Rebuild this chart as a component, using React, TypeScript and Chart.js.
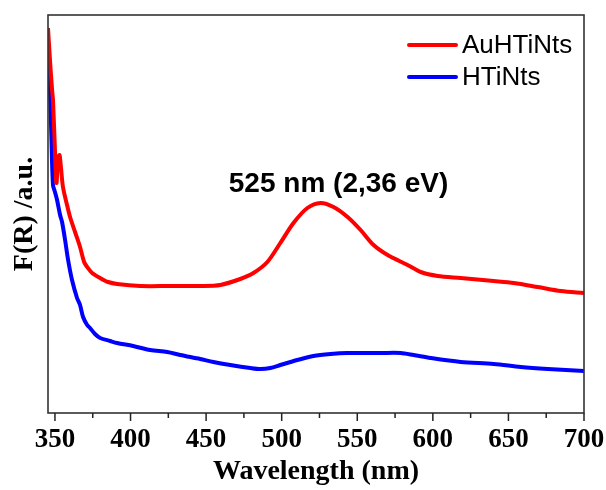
import { useEffect, useRef } from 'react';
import { Chart, registerables } from 'chart.js';

Chart.register(...registerables);

const seriesLabels = ['AuHTiNts', 'HTiNts'];
const seriesColors = ['#ff0000', '#0000ff'];

const auWavelength = [345.4, 346.7, 348.1, 348.7, 350.0, 351.0, 352.0, 353.0, 354.0, 355.3, 358.0, 360.0, 363.3, 366.6, 369.3, 371.3, 374.6, 379.9, 385.2, 391.1, 406.4, 426.2, 446.1, 459.4, 472.6, 481.3, 490.5, 499.1, 507.8, 517.0, 525.7, 534.3, 543.6, 552.2, 560.8, 570.1, 583.3, 592.0, 603.2, 618.4, 640.3, 653.6, 669.5, 684.7, 700.0];
const auValues = [385, 353, 323, 313, 263, 230, 253, 258, 245, 226, 208, 196, 181, 166, 151, 146, 140, 135, 131, 129, 127, 127, 127, 128, 134, 140, 151, 170, 190, 205, 210, 206, 196, 183, 168, 158, 148, 141, 137, 135, 132, 130, 126, 122, 120];

const hWavelength = [345.4, 346.7, 347.7, 348.7, 350.0, 351.4, 353.4, 354.7, 356.7, 358.7, 361.3, 364.6, 366.6, 368.6, 371.3, 373.2, 376.5, 379.9, 386.5, 391.1, 401.7, 413.0, 424.3, 432.9, 446.1, 454.8, 466.0, 479.3, 485.9, 492.5, 499.1, 510.4, 521.0, 532.3, 543.5, 565.4, 578.7, 587.3, 598.5, 618.4, 640.3, 658.2, 676.1, 700.0];
const hValues = [373, 323, 273, 228, 221, 213, 198, 191, 173, 153, 133, 115, 108, 96, 88, 85, 79, 75, 72, 70, 67, 63, 61, 58, 54, 51, 48, 45, 44, 45, 48, 53, 57, 59, 60, 60, 60, 58, 55, 51, 49, 46, 44, 42];

const xTickValues = [350, 400, 450, 500, 550, 600, 650, 700];
const xMinorTickValues = [375, 425, 475, 525, 575, 625, 675];
const xMin = 345.4;
const xMax = 700;
const yMin = 0;
const yMax = 398;

const xTitle = 'Wavelength (nm)';
const yTitle = 'F(R) /a.u.';
const peakLabel = '525 nm (2,36 eV)';
const peakLabelX = 537.6;
const peakLabelY = 221;

const decorPlugin = {
  id: 'decor',
  afterDraw(chart: any) {
    const { ctx, chartArea: a, scales } = chart;
    const xs = scales.x;
    const ys = scales.y;
    ctx.save();
    ctx.strokeStyle = '#333333';
    ctx.lineWidth = 1.6;
    ctx.strokeRect(a.left, a.top, a.right - a.left, a.bottom - a.top);
    ctx.lineWidth = 1.5;
    ctx.strokeStyle = '#222222';
    ctx.beginPath();
    xTickValues.forEach((v) => {
      const px = xs.getPixelForValue(v);
      ctx.moveTo(px, a.bottom);
      ctx.lineTo(px, a.bottom + 8);
    });
    xMinorTickValues.forEach((v) => {
      const px = xs.getPixelForValue(v);
      ctx.moveTo(px, a.bottom);
      ctx.lineTo(px, a.bottom + 5);
    });
    ctx.stroke();
    ctx.font = '26px "Liberation Sans", Arial, sans-serif';
    ctx.textBaseline = 'middle';
    ctx.textAlign = 'left';
    seriesLabels.forEach((lab, i) => {
      const y = a.top + 30 + i * 32;
      ctx.strokeStyle = seriesColors[i];
      ctx.lineWidth = 4;
      ctx.lineCap = 'round';
      ctx.beginPath();
      ctx.moveTo(a.right - 175, y);
      ctx.lineTo(a.right - 128, y);
      ctx.stroke();
      ctx.fillStyle = '#000000';
      ctx.fillText(lab, a.right - 122, y + 1);
    });
    ctx.font = 'bold 28px "Liberation Sans", Arial, sans-serif';
    ctx.textAlign = 'center';
    ctx.textBaseline = 'alphabetic';
    ctx.fillStyle = '#000000';
    ctx.fillText(peakLabel, xs.getPixelForValue(peakLabelX), ys.getPixelForValue(peakLabelY));
    ctx.restore();
  },
};

export default function App() {
  const ref = useRef<HTMLCanvasElement | null>(null);
  useEffect(() => {
    if (!ref.current) return;
    const chart = new Chart(ref.current, {
      type: 'line',
      data: {
        datasets: [
          {
            label: seriesLabels[0],
            data: auWavelength.map((x, i) => ({ x, y: auValues[i] })),
            borderColor: seriesColors[0],
            borderWidth: 4,
            pointRadius: 0,
            tension: 0.3,
            fill: false,
          },
          {
            label: seriesLabels[1],
            data: hWavelength.map((x, i) => ({ x, y: hValues[i] })),
            borderColor: seriesColors[1],
            borderWidth: 4,
            pointRadius: 0,
            tension: 0.3,
            fill: false,
          },
        ],
      },
      options: {
        responsive: false,
        animation: false,
        layout: { padding: { top: 15, right: 22, left: 0, bottom: 0 } },
        plugins: { legend: { display: false }, tooltip: { enabled: false } },
        scales: {
          x: {
            type: 'linear',
            min: xMin,
            max: xMax,
            grid: { display: false, drawTicks: false },
            border: { display: false },
            afterBuildTicks: (s: any) => {
              s.ticks = xTickValues.map((v) => ({ value: v }));
            },
            afterFit: (s: any) => {
              s.height = 77;
              s.paddingLeft = 0;
              s.paddingRight = 0;
            },
            ticks: {
              color: '#000000',
              padding: 11,
              maxRotation: 0,
              autoSkip: false,
              font: { family: '"Liberation Serif", "Times New Roman", serif', size: 27, weight: 'bold' },
            },
            title: {
              display: true,
              text: xTitle,
              color: '#000000',
              padding: { top: 0, bottom: 1 },
              font: { family: '"Liberation Serif", "Times New Roman", serif', size: 28, weight: 'bold' },
            },
          },
          y: {
            type: 'linear',
            min: yMin,
            max: yMax,
            grid: { display: false, drawTicks: false },
            border: { display: false },
            ticks: { display: false },
            afterFit: (s: any) => {
              s.width = 48;
              s.paddingTop = 0;
              s.paddingBottom = 0;
            },
            title: {
              display: true,
              text: yTitle,
              color: '#000000',
              padding: { top: 8, bottom: 0 },
              font: { family: '"Liberation Serif", "Times New Roman", serif', size: 28, weight: 'bold' },
            },
          },
        },
      },
      plugins: [decorPlugin],
    } as any);
    return () => chart.destroy();
  }, []);
  return (
    <div style={{ position: 'absolute', left: 0, top: 0, width: 606, height: 490, background: '#ffffff' }}>
      <canvas ref={ref} width={606} height={490} />
    </div>
  );
}
